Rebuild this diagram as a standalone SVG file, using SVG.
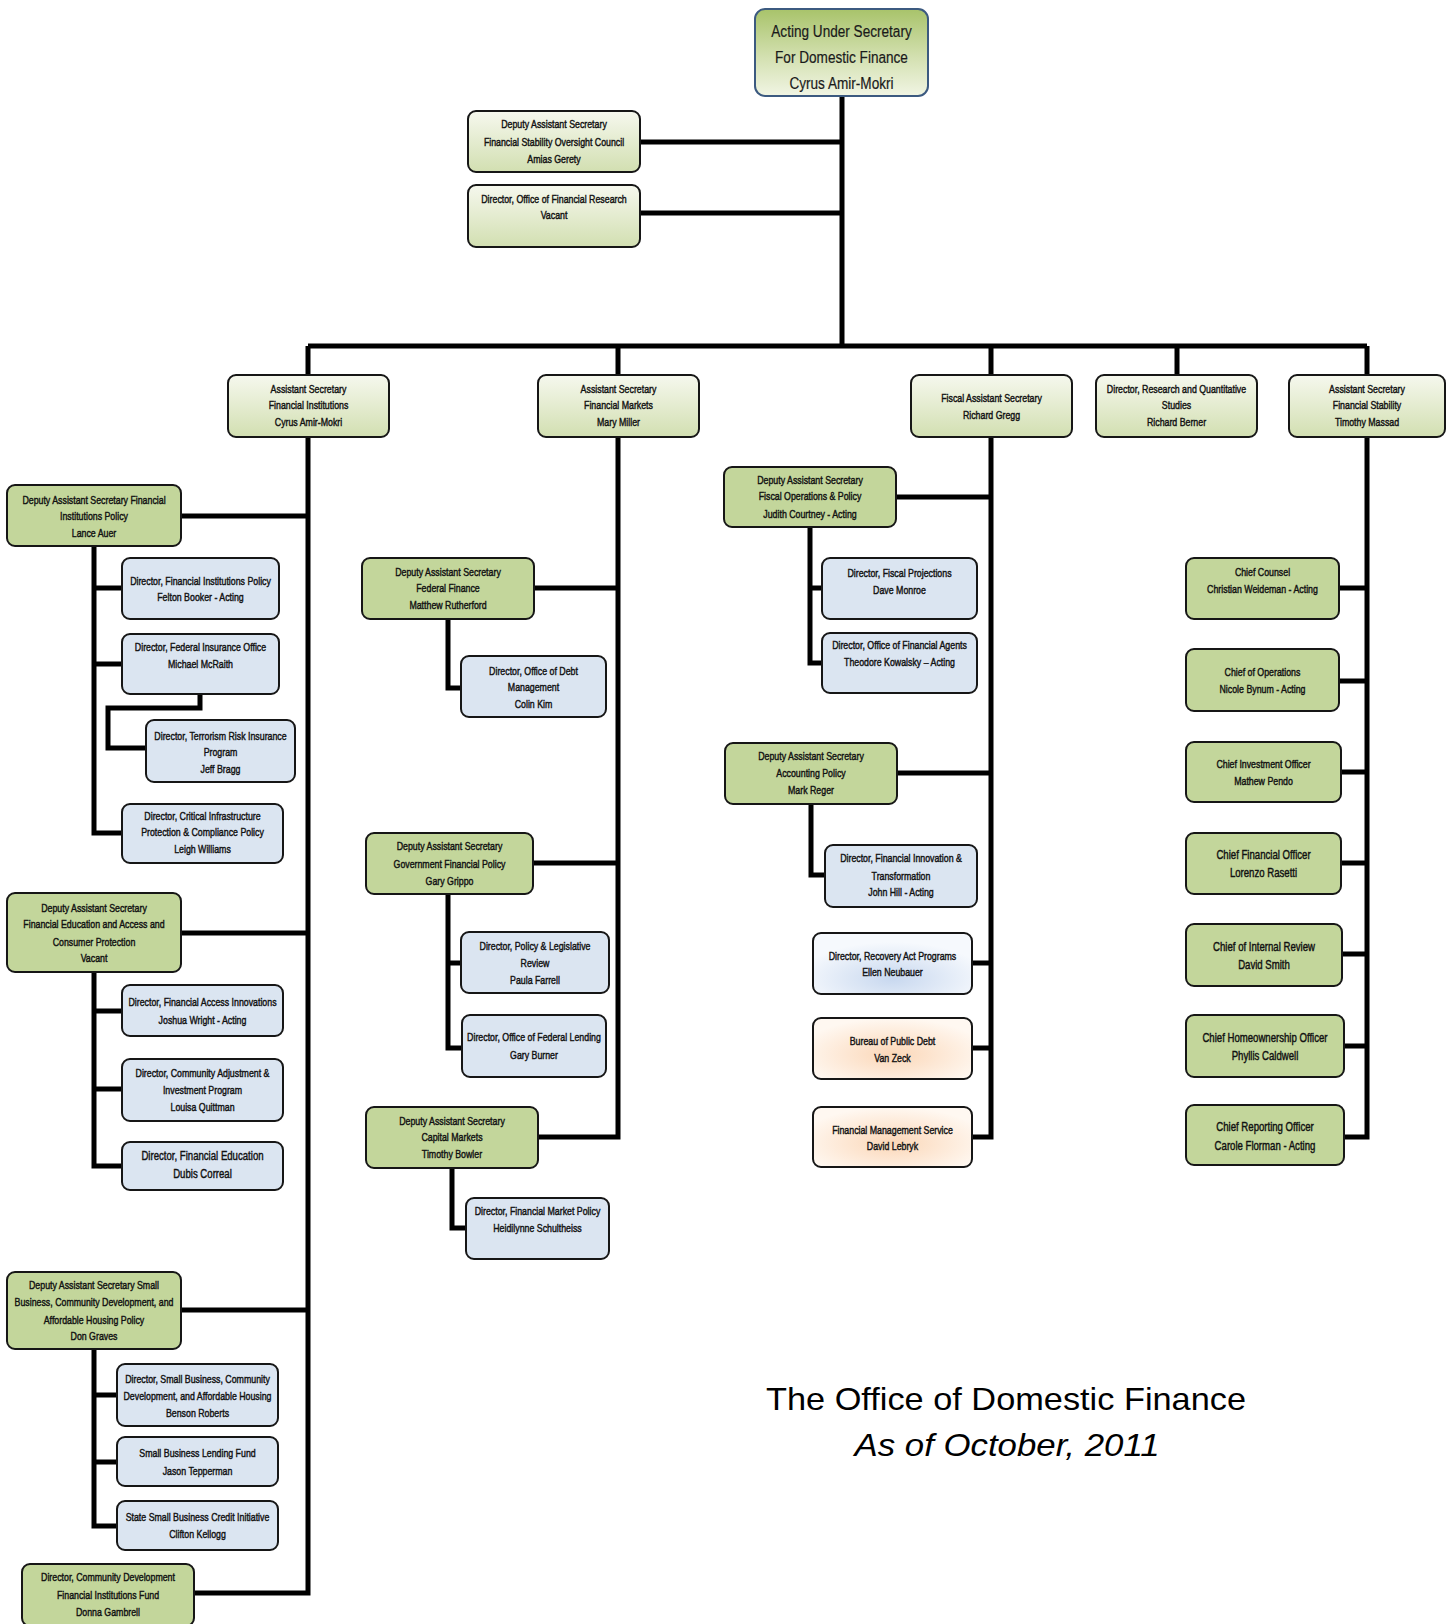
<svg xmlns="http://www.w3.org/2000/svg" width="1452" height="1624" viewBox="0 0 1452 1624">
<defs>
<linearGradient id="gT" x1="0" y1="0" x2="0" y2="1"><stop offset="0" stop-color="#a8c36a"/><stop offset="0.55" stop-color="#d3e0b0"/><stop offset="1" stop-color="#f1f5e4"/></linearGradient>
<linearGradient id="gA" x1="0" y1="0" x2="0" y2="1"><stop offset="0" stop-color="#f6f8ee"/><stop offset="1" stop-color="#d2dfb1"/></linearGradient>
<radialGradient id="gR" cx="0.5" cy="0.75" r="0.6"><stop offset="0" stop-color="#c8d8ef"/><stop offset="1" stop-color="#f6f9fd"/></radialGradient>
<radialGradient id="gP" cx="0.5" cy="0.6" r="0.6"><stop offset="0" stop-color="#fbd7b8"/><stop offset="1" stop-color="#fff8f1"/></radialGradient>
<style>
rect{stroke:#161616;stroke-width:2}
.g{fill:#c3d69b}
.a{fill:url(#gA)}
.b{fill:#dbe5f1}
.r{fill:url(#gR)}
.p{fill:url(#gP)}
.top{fill:url(#gT);stroke:#3c5a80}
text{font-family:"Liberation Sans",Arial,sans-serif;font-size:11px;fill:#111;text-anchor:middle;stroke:#111;stroke-width:0.42}
.m text{font-size:12px}
.tt text{font-size:17px;stroke:#1a1a1a;stroke-width:0.2;fill:#1a1a1a}
.ttl{font-size:32px;stroke:none;fill:#000}
.it{font-style:italic}
#conn path{fill:none;stroke:#000;stroke-width:5}
</style>
</defs>
<rect x="0" y="0" width="1452" height="1624" style="fill:#fff;stroke:none"/>

<g id="conn">
<path d="M842,96V346"/>
<path d="M640,142H842"/>
<path d="M640,213H842"/>
<path d="M308,346H1367"/>
<path d="M308,346V375M618,346V375M991,346V375M1177,346V375M1367,346V375"/>
<path d="M308,437V1593H194"/>
<path d="M181,516H308M181,933H308M181,1310H308"/>
<path d="M94,546V833H122M94,588H122M94,664H122"/>
<path d="M200,694V708H108V748H146"/>
<path d="M94,972V1166H122M94,1011H122M94,1089H122"/>
<path d="M94,1349V1526H117M94,1395H117M94,1462H117"/>
<path d="M618,437V1137H538M534,588H618M533,863H618"/>
<path d="M448,619V688H461"/>
<path d="M448,894V1048H462M448,963H461"/>
<path d="M452,1168V1228H466"/>
<path d="M991,437V1137H972M896,497H991M897,773H991M972,963H991M972,1048H991"/>
<path d="M810,527V663H822M810,588H822"/>
<path d="M811,804V875H825"/>
<path d="M1367,437V1137H1344M1339,588H1367M1339,681H1367M1341,772H1367M1341,863H1367M1342,954H1367M1344,1046H1367"/>
</g>

<g id="n-top"><rect class="top" x="755" y="9" width="173" height="87" rx="10"/>
<g class="tt" transform="translate(841.5 0) scale(0.8 1)"><text y="37">Acting Under Secretary</text><text y="63">For Domestic Finance</text><text y="89">Cyrus Amir-Mokri</text></g></g>

<g id="n-fsoc"><rect class="a" x="468" y="111" width="172" height="61" rx="8"/>
<g transform="translate(554 0) scale(0.8 1)"><text y="128">Deputy Assistant Secretary</text><text y="146">Financial Stability Oversight Council</text><text y="163">Amias Gerety</text></g></g>
<g id="n-ofr"><rect class="a" x="468" y="185" width="172" height="62" rx="8"/>
<g transform="translate(554 0) scale(0.8 1)"><text y="203">Director, Office of Financial Research</text><text y="219.5">Vacant</text></g></g>

<g id="n-asfi"><rect class="a" x="228" y="375" width="161" height="62" rx="8"/>
<g transform="translate(308.5 0) scale(0.8 1)"><text y="393">Assistant Secretary</text><text y="409.5">Financial Institutions</text><text y="426">Cyrus Amir-Mokri</text></g></g>
<g id="n-asfm"><rect class="a" x="538" y="375" width="161" height="62" rx="8"/>
<g transform="translate(618.5 0) scale(0.8 1)"><text y="393">Assistant Secretary</text><text y="409.5">Financial Markets</text><text y="426">Mary Miller</text></g></g>
<g id="n-fas"><rect class="a" x="911" y="375" width="161" height="62" rx="8"/>
<g transform="translate(991.5 0) scale(0.8 1)"><text y="402">Fiscal Assistant Secretary</text><text y="419">Richard Gregg</text></g></g>
<g id="n-rqs"><rect class="a" x="1096" y="375" width="161" height="62" rx="8"/>
<g transform="translate(1176.5 0) scale(0.8 1)"><text y="393">Director, Research and Quantitative</text><text y="409.5">Studies</text><text y="426">Richard Berner</text></g></g>
<g id="n-asfs"><rect class="a" x="1289" y="375" width="156" height="62" rx="8"/>
<g transform="translate(1367 0) scale(0.8 1)"><text y="393">Assistant Secretary</text><text y="409.5">Financial Stability</text><text y="426">Timothy Massad</text></g></g>

<g id="n-dasfip"><rect class="g" x="7" y="485" width="174" height="61" rx="8"/>
<g transform="translate(94 0) scale(0.8 1)"><text y="504">Deputy Assistant Secretary Financial</text><text y="520.5">Institutions Policy</text><text y="537">Lance Auer</text></g></g>
<g id="n-dfip"><rect class="b" x="122" y="558" width="157" height="61" rx="8"/>
<g transform="translate(200.5 0) scale(0.8 1)"><text y="585">Director, Financial Institutions Policy</text><text y="601.5">Felton Booker - Acting</text></g></g>
<g id="n-dfio"><rect class="b" x="122" y="634" width="157" height="60" rx="8"/>
<g transform="translate(200.5 0) scale(0.8 1)"><text y="651.5">Director, Federal Insurance Office</text><text y="668">Michael McRaith</text></g></g>
<g id="n-dtrip"><rect class="b" x="146" y="720" width="149" height="62" rx="8"/>
<g transform="translate(220.5 0) scale(0.8 1)"><text y="740">Director, Terrorism Risk Insurance</text><text y="756.5">Program</text><text y="773">Jeff Bragg</text></g></g>
<g id="n-dcip"><rect class="b" x="122" y="804" width="161" height="59" rx="8"/>
<g transform="translate(202.5 0) scale(0.8 1)"><text y="820">Director, Critical Infrastructure</text><text y="836.5">Protection &amp; Compliance Policy</text><text y="853">Leigh Williams</text></g></g>
<g id="n-dasfe"><rect class="g" x="7" y="893" width="174" height="79" rx="8"/>
<g transform="translate(94 0) scale(0.8 1)"><text y="912">Deputy Assistant Secretary</text><text y="928.5">Financial Education and Access and</text><text y="946">Consumer Protection</text><text y="962.5">Vacant</text></g></g>
<g id="n-dfai"><rect class="b" x="122" y="985" width="161" height="51" rx="8"/>
<g transform="translate(202.5 0) scale(0.8 1)"><text y="1006.5">Director, Financial Access Innovations</text><text y="1024">Joshua Wright - Acting</text></g></g>
<g id="n-dcaip"><rect class="b" x="122" y="1059" width="161" height="62" rx="8"/>
<g transform="translate(202.5 0) scale(0.8 1)"><text y="1077">Director, Community Adjustment &amp;</text><text y="1094">Investment Program</text><text y="1111.5">Louisa Quittman</text></g></g>
<g id="n-dfe"><rect class="b" x="122" y="1142" width="161" height="48" rx="8"/>
<g class="m" transform="translate(202.5 0) scale(0.8 1)"><text y="1160">Director, Financial Education</text><text y="1178">Dubis Correal</text></g></g>
<g id="n-dassb"><rect class="g" x="7" y="1272" width="174" height="77" rx="8"/>
<g transform="translate(94 0) scale(0.8 1)"><text y="1289">Deputy Assistant Secretary Small</text><text y="1306.5">Business, Community Development, and</text><text y="1324">Affordable Housing Policy</text><text y="1340.5">Don Graves</text></g></g>
<g id="n-dsb"><rect class="b" x="117" y="1364" width="161" height="62" rx="8"/>
<g transform="translate(197.5 0) scale(0.8 1)"><text y="1383">Director, Small Business, Community</text><text y="1400">Development, and Affordable Housing</text><text y="1417">Benson Roberts</text></g></g>
<g id="n-sblf"><rect class="b" x="117" y="1437" width="161" height="49" rx="8"/>
<g transform="translate(197.5 0) scale(0.8 1)"><text y="1457">Small Business Lending Fund</text><text y="1475">Jason Tepperman</text></g></g>
<g id="n-ssbci"><rect class="b" x="117" y="1501" width="161" height="49" rx="8"/>
<g transform="translate(197.5 0) scale(0.8 1)"><text y="1521.5">State Small Business Credit Initiative</text><text y="1538">Clifton Kellogg</text></g></g>
<g id="n-cdfi"><rect class="g" x="22" y="1564" width="172" height="62" rx="8"/>
<g transform="translate(108 0) scale(0.8 1)"><text y="1581.5">Director, Community Development</text><text y="1599">Financial Institutions Fund</text><text y="1616">Donna Gambrell</text></g></g>

<g id="n-dasff"><rect class="g" x="362" y="558" width="172" height="61" rx="8"/>
<g transform="translate(448 0) scale(0.8 1)"><text y="576">Deputy Assistant Secretary</text><text y="592.5">Federal Finance</text><text y="609">Matthew Rutherford</text></g></g>
<g id="n-ddm"><rect class="b" x="461" y="656" width="145" height="61" rx="8"/>
<g transform="translate(533.5 0) scale(0.8 1)"><text y="675">Director, Office of Debt</text><text y="691.5">Management</text><text y="708">Colin Kim</text></g></g>
<g id="n-dasgfp"><rect class="g" x="366" y="833" width="167" height="61" rx="8"/>
<g transform="translate(449.5 0) scale(0.8 1)"><text y="850.5">Deputy Assistant Secretary</text><text y="868">Government Financial Policy</text><text y="885">Gary Grippo</text></g></g>
<g id="n-dplr"><rect class="b" x="461" y="932" width="148" height="61" rx="8"/>
<g transform="translate(535 0) scale(0.8 1)"><text y="950.5">Director, Policy &amp; Legislative</text><text y="967">Review</text><text y="984">Paula Farrell</text></g></g>
<g id="n-dofl"><rect class="b" x="462" y="1015" width="144" height="62" rx="8"/>
<g transform="translate(534 0) scale(0.8 1)"><text y="1041.5">Director, Office of Federal Lending</text><text y="1059">Gary Burner</text></g></g>
<g id="n-dascm"><rect class="g" x="366" y="1107" width="172" height="61" rx="8"/>
<g transform="translate(452 0) scale(0.8 1)"><text y="1125">Deputy Assistant Secretary</text><text y="1141.5">Capital Markets</text><text y="1158">Timothy Bowler</text></g></g>
<g id="n-dfmp"><rect class="b" x="466" y="1198" width="143" height="61" rx="8"/>
<g transform="translate(537.5 0) scale(0.8 1)"><text y="1215">Director, Financial Market Policy</text><text y="1232.5">Heidilynne Schultheiss</text></g></g>

<g id="n-dasfop"><rect class="g" x="724" y="467" width="172" height="60" rx="8"/>
<g transform="translate(810 0) scale(0.8 1)"><text y="484">Deputy Assistant Secretary</text><text y="500.5">Fiscal Operations &amp; Policy</text><text y="518">Judith Courtney - Acting</text></g></g>
<g id="n-dfp"><rect class="b" x="822" y="558" width="155" height="61" rx="8"/>
<g transform="translate(899.5 0) scale(0.8 1)"><text y="577">Director, Fiscal Projections</text><text y="594">Dave Monroe</text></g></g>
<g id="n-dofa"><rect class="b" x="822" y="633" width="155" height="60" rx="8"/>
<g transform="translate(899.5 0) scale(0.8 1)"><text y="649">Director, Office of Financial Agents</text><text y="666.5">Theodore Kowalsky – Acting</text></g></g>
<g id="n-dasap"><rect class="g" x="725" y="743" width="172" height="61" rx="8"/>
<g transform="translate(811 0) scale(0.8 1)"><text y="760">Deputy Assistant Secretary</text><text y="777">Accounting Policy</text><text y="794">Mark Reger</text></g></g>
<g id="n-dfit"><rect class="b" x="825" y="845" width="152" height="62" rx="8"/>
<g transform="translate(901 0) scale(0.8 1)"><text y="862.5">Director, Financial Innovation &amp;</text><text y="880">Transformation</text><text y="896.5">John Hill - Acting</text></g></g>
<g id="n-drap"><rect class="r" x="813" y="933" width="159" height="61" rx="8"/>
<g transform="translate(892.5 0) scale(0.8 1)"><text y="960">Director, Recovery Act Programs</text><text y="976.5">Ellen Neubauer</text></g></g>
<g id="n-bpd"><rect class="p" x="813" y="1018" width="159" height="61" rx="8"/>
<g transform="translate(892.5 0) scale(0.8 1)"><text y="1045">Bureau of Public Debt</text><text y="1062.5">Van Zeck</text></g></g>
<g id="n-fms"><rect class="p" x="813" y="1107" width="159" height="60" rx="8"/>
<g transform="translate(892.5 0) scale(0.8 1)"><text y="1134">Financial Management Service</text><text y="1150.5">David Lebryk</text></g></g>

<g id="n-cc"><rect class="g" x="1186" y="558" width="153" height="61" rx="8"/>
<g transform="translate(1262.5 0) scale(0.8 1)"><text y="576">Chief Counsel</text><text y="593">Christian Weideman - Acting</text></g></g>
<g id="n-co"><rect class="g" x="1186" y="649" width="153" height="62" rx="8"/>
<g transform="translate(1262.5 0) scale(0.8 1)"><text y="676">Chief of Operations</text><text y="693">Nicole Bynum - Acting</text></g></g>
<g id="n-cio"><rect class="g" x="1186" y="742" width="155" height="60" rx="8"/>
<g transform="translate(1263.5 0) scale(0.8 1)"><text y="768">Chief Investment Officer</text><text y="785">Mathew Pendo</text></g></g>
<g id="n-cfo"><rect class="g" x="1186" y="833" width="155" height="61" rx="8"/>
<g class="m" transform="translate(1263.5 0) scale(0.8 1)"><text y="859">Chief Financial Officer</text><text y="877">Lorenzo Rasetti</text></g></g>
<g id="n-cir"><rect class="g" x="1186" y="924" width="156" height="62" rx="8"/>
<g class="m" transform="translate(1264 0) scale(0.8 1)"><text y="951">Chief of Internal Review</text><text y="969">David Smith</text></g></g>
<g id="n-cho"><rect class="g" x="1186" y="1015" width="158" height="62" rx="8"/>
<g class="m" transform="translate(1265 0) scale(0.8 1)"><text y="1042">Chief Homeownership Officer</text><text y="1060.5">Phyllis Caldwell</text></g></g>
<g id="n-cro"><rect class="g" x="1186" y="1105" width="158" height="60" rx="8"/>
<g class="m" transform="translate(1265 0) scale(0.8 1)"><text y="1131">Chief Reporting Officer</text><text y="1150">Carole Florman - Acting</text></g></g>

<g id="title">
<text class="ttl" x="1006" y="1410" textLength="480" lengthAdjust="spacingAndGlyphs">The Office of Domestic Finance</text>
<text class="ttl it" x="1007" y="1456" textLength="305" lengthAdjust="spacingAndGlyphs">As of October, 2011</text>
</g>
</svg>
